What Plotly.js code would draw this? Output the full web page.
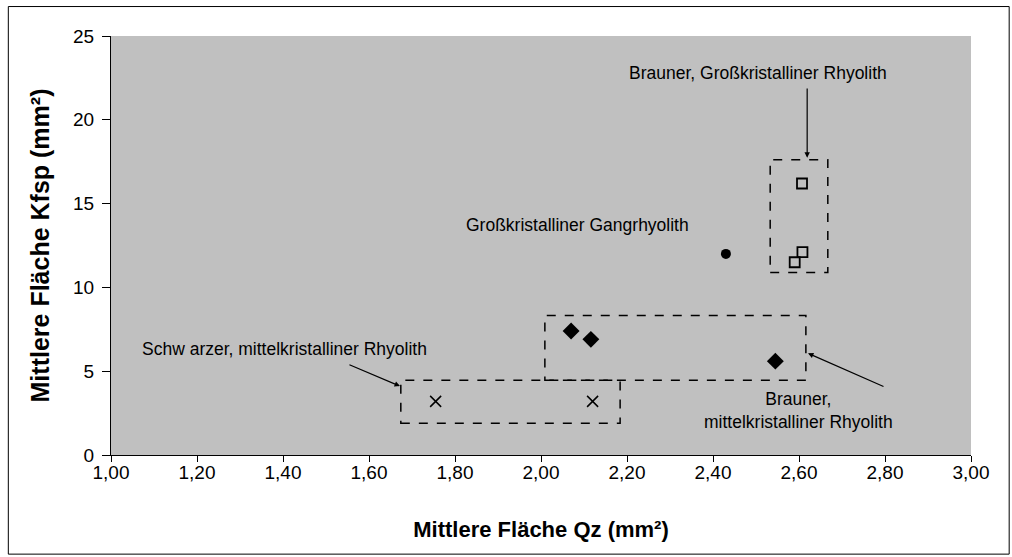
<!DOCTYPE html>
<html>
<head>
<meta charset="utf-8">
<script src="https://cdn.plot.ly/plotly-3.0.1.min.js"></script>
<style>
  html, body { margin: 0; padding: 0; background: #fff; }
  #chart { width: 1012px; height: 557px; }
</style>
</head>
<body>
<div id="chart"></div>
<script>
// Schwarzer, mittelkristalliner Rhyolith
const schwarzX = [1.755, 2.12];
const schwarzY = [3.2, 3.2];
// Brauner, mittelkristalliner Rhyolith
const braunMittelX = [2.07, 2.116, 2.545];
const braunMittelY = [7.4, 6.9, 5.6];
// Großkristalliner Gangrhyolith
const gangX = [2.43];
const gangY = [12.0];
// Brauner, Großkristalliner Rhyolith
const braunGrossX = [2.607, 2.608, 2.59];
const braunGrossY = [16.2, 12.1, 11.5];

const xTicks = [1.0, 1.2, 1.4, 1.6, 1.8, 2.0, 2.2, 2.4, 2.6, 2.8, 3.0];
const xTickLabels = ["1,00","1,20","1,40","1,60","1,80","2,00","2,20","2,40","2,60","2,80","3,00"];
const yTicks = [0, 5, 10, 15, 20, 25];

const font = "Liberation Sans, Arial, sans-serif";

const traces = [
  { x: schwarzX, y: schwarzY, mode: "markers", type: "scatter",
    marker: { symbol: "x-thin-open", size: 11, color: "#000", line: { color: "#000", width: 1.5 } } },
  { x: braunMittelX, y: braunMittelY, mode: "markers", type: "scatter",
    marker: { symbol: "diamond", size: 13, color: "#000" } },
  { x: gangX, y: gangY, mode: "markers", type: "scatter",
    marker: { symbol: "circle", size: 10, color: "#000" } },
  { x: braunGrossX, y: braunGrossY, mode: "markers", type: "scatter",
    marker: { symbol: "square-open", size: 10, color: "#000", line: { color: "#000", width: 1.8 } } },
  // carrier for the tick-mark axis (invisible)
  { x: [xTicks[0]], y: [yTicks[0]], xaxis: "x2", mode: "markers", type: "scatter",
    marker: { size: 1, opacity: 0 }, hoverinfo: "skip" }
];

const dash = { color: "#000", width: 1.5, dash: "dash" };
const txt = { family: font, size: 17.5, color: "#000" };

const layout = {
  width: 1012, height: 557,
  margin: { l: 111, r: 41, t: 36, b: 102 },
  paper_bgcolor: "#fff",
  plot_bgcolor: "#C0C0C0",
  showlegend: false,
  font: { family: font, size: 19, color: "#000" },
  xaxis: {
    range: [1.0, 3.0], tickvals: xTicks, ticktext: xTickLabels,
    showgrid: false, zeroline: false, showline: true, linecolor: "#000", linewidth: 1,
    ticks: "", tickfont: { family: font, size: 19 },
    title: { text: "<b>Mittlere Fläche Qz (mm²)</b>", font: { family: font, size: 22 }, standoff: 39 }
  },
  xaxis2: {
    overlaying: "x", matches: "x", side: "bottom", anchor: "y",
    range: [1.0, 3.0], tickvals: xTicks, showticklabels: false,
    showgrid: false, zeroline: false, showline: false,
    ticks: "outside", ticklen: 6, tickcolor: "#000"
  },
  yaxis: {
    range: [0, 25], tickvals: yTicks,
    showgrid: false, zeroline: false, showline: true, linecolor: "#000", linewidth: 1,
    ticks: "outside", ticklen: 8, tickcolor: "#000", ticklabelstandoff: 4,
    tickfont: { family: font, size: 19 },
    title: { text: "<b>Mittlere Fläche Kfsp (mm²)</b>", font: { family: font, size: 25 }, standoff: 16 }
  },
  shapes: [
    { type: "rect", xref: "paper", yref: "paper", x0: -0.1194, x1: 1.0444, y0: -0.2366, y1: 1.0703,
      line: { color: "#000", width: 1 }, fillcolor: "rgba(0,0,0,0)", layer: "below" },
    { type: "rect", xref: "x", yref: "y", x0: 1.674, x1: 2.184, y0: 1.9, y1: 4.46, line: dash },
    { type: "rect", xref: "x", yref: "y", x0: 2.009, x1: 2.616, y0: 4.46, y1: 8.33, line: dash },
    { type: "rect", xref: "x", yref: "y", x0: 2.533, x1: 2.667, y0: 10.89, y1: 17.62, line: dash }
  ],
  annotations: [
    { x: 2.505, y: 22.8, xref: "x", yref: "y", text: "Brauner, Großkristalliner Rhyolith", showarrow: false, font: txt },
    { x: 2.084, y: 13.7, xref: "x", yref: "y", text: "Großkristalliner Gangrhyolith", showarrow: false, font: txt },
    { x: 1.403, y: 6.31, xref: "x", yref: "y", text: "Schw arzer, mittelkristalliner Rhyolith", showarrow: false, font: txt },
    { x: 2.598, y: 2.68, xref: "x", yref: "y", text: "Brauner,<br>mittelkristalliner Rhyolith", showarrow: false, font: txt, align: "center" },
    { x: 2.619, y: 17.74, ax: 2.619, ay: 21.96, xref: "x", yref: "y", axref: "x", ayref: "y",
      text: "", showarrow: true, arrowhead: 2, arrowsize: 0.9, arrowwidth: 1.2, arrowcolor: "#000", standoff: 0 },
    { x: 1.672, y: 4.11, ax: 1.551, ay: 5.42, xref: "x", yref: "y", axref: "x", ayref: "y",
      text: "", showarrow: true, arrowhead: 2, arrowsize: 0.9, arrowwidth: 1.2, arrowcolor: "#000", standoff: 0 },
    { x: 2.621, y: 6.07, ax: 2.800, ay: 4.05, xref: "x", yref: "y", axref: "x", ayref: "y",
      text: "", showarrow: true, arrowhead: 2, arrowsize: 0.9, arrowwidth: 1.2, arrowcolor: "#000", standoff: 0 }
  ]
};

Plotly.newPlot("chart", traces, layout, { displayModeBar: false, staticPlot: true });
</script>
</body>
</html>
